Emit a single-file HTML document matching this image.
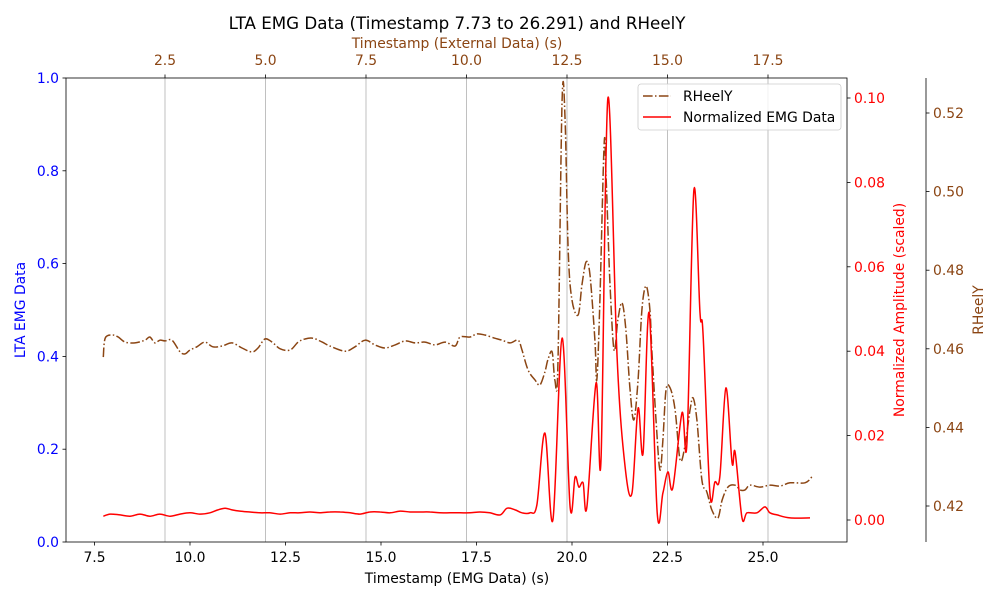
<!DOCTYPE html>
<html><head><meta charset="utf-8"><style>
body{margin:0;background:#fff;}
svg text{font-family:"DejaVu Sans","Liberation Sans",sans-serif;}
</style></head><body>
<svg id="chart" width="1000" height="600" xmlns="http://www.w3.org/2000/svg"></svg>
<script>
const heelX=[7.73,7.78,7.96,8.12,8.30,8.56,8.82,8.95,9.08,9.21,9.35,9.53,9.74,9.87,10.0,10.18,10.39,10.60,10.84,11.10,11.36,11.62,11.78,11.96,12.15,12.36,12.62,12.83,13.01,13.22,13.46,13.66,14.06,14.32,14.58,14.84,15.10,15.37,15.63,15.89,16.15,16.41,16.68,16.94,17.07,17.33,17.51,17.72,17.98,18.17,18.38,18.59,18.69,18.85,19.03,19.16,19.29,19.37,19.48,19.55,19.63,19.74,19.82,19.90,20.0,20.16,20.26,20.37,20.47,20.60,20.65,20.73,20.84,20.89,20.99,21.10,21.20,21.31,21.41,21.52,21.62,21.73,21.83,21.94,22.04,22.09,22.20,22.30,22.38,22.46,22.57,22.70,22.83,22.96,23.09,23.17,23.27,23.40,23.53,23.66,23.82,23.93,24.08,24.27,24.40,24.53,24.66,24.92,25.18,25.45,25.71,26.10,26.28];
const heelY=[0.4579,0.4627,0.4635,0.4630,0.4617,0.4615,0.4622,0.4630,0.4615,0.4622,0.4620,0.4622,0.4592,0.4587,0.4597,0.4605,0.4617,0.4605,0.4607,0.4615,0.4602,0.4592,0.4602,0.4625,0.4617,0.4600,0.4597,0.4617,0.4625,0.4627,0.4617,0.4607,0.4594,0.4605,0.4622,0.4610,0.4602,0.4610,0.4620,0.4615,0.4617,0.4610,0.4617,0.4607,0.4630,0.4630,0.4638,0.4635,0.4627,0.4622,0.4615,0.4622,0.4597,0.4546,0.4521,0.4508,0.4541,0.4572,0.4592,0.4521,0.4559,0.5233,0.5182,0.4851,0.4724,0.4686,0.4762,0.4821,0.4788,0.4622,0.4521,0.4724,0.5119,0.5042,0.4775,0.4597,0.4673,0.4717,0.4648,0.4495,0.4419,0.4521,0.4699,0.4760,0.4699,0.4597,0.4419,0.4292,0.4368,0.4495,0.4500,0.4444,0.4317,0.4355,0.4444,0.4475,0.4419,0.4266,0.4236,0.4190,0.4169,0.4215,0.4248,0.4253,0.4241,0.4241,0.4253,0.4248,0.4253,0.4251,0.4259,0.4259,0.4274];
const emgX=[7.73,7.91,8.17,8.43,8.69,8.95,9.21,9.48,9.74,10.0,10.26,10.52,10.73,10.92,11.10,11.31,11.57,11.83,12.09,12.36,12.62,12.88,13.14,13.40,13.66,13.93,14.19,14.45,14.71,14.97,15.24,15.50,15.76,16.02,16.28,16.54,16.81,17.07,17.33,17.59,17.85,18.12,18.30,18.51,18.69,18.90,19.08,19.29,19.50,19.74,19.95,20.08,20.18,20.29,20.39,20.63,20.76,20.94,21.18,21.39,21.57,21.73,21.86,22.02,22.23,22.38,22.51,22.64,22.88,23.01,23.19,23.35,23.43,23.61,23.74,23.87,24.03,24.19,24.27,24.45,24.58,24.84,25.05,25.18,25.37,25.71,26.23];
const emgY=[0.0009,0.0014,0.0012,0.0009,0.0014,0.0009,0.0014,0.0009,0.0014,0.0017,0.0014,0.0017,0.0024,0.0028,0.0024,0.0021,0.0019,0.0017,0.0017,0.0014,0.0017,0.0017,0.0019,0.0017,0.0019,0.0019,0.0017,0.0014,0.0019,0.0019,0.0017,0.0021,0.0019,0.0019,0.0019,0.0017,0.0017,0.0017,0.0017,0.0019,0.0017,0.0012,0.0028,0.0024,0.0017,0.0017,0.0036,0.0206,0.0,0.0431,0.0031,0.0102,0.0078,0.0088,0.0031,0.0325,0.0142,0.1,0.0386,0.0126,0.0064,0.0265,0.0159,0.0491,0.0017,0.0064,0.0114,0.0076,0.0254,0.0185,0.0782,0.0491,0.0443,0.0064,0.0090,0.0102,0.0313,0.0135,0.0161,0.0005,0.0017,0.0017,0.0031,0.0017,0.0012,0.0005,0.0005];
const bottomTicks=[7.5,10.0,12.5,15.0,17.5,20.0,22.5,25.0];
const topTicks=[2.5,5.0,7.5,10.0,12.5,15.0,17.5];
const leftTicks=[0.0,0.2,0.4,0.6,0.8,1.0];
const redTicks=[0.00,0.02,0.04,0.06,0.08,0.10];
const heelTicks=[0.42,0.44,0.46,0.48,0.50,0.52];

const L=66,R=847,T=78,B=542;
const xB=v=>190+(v-10)*38.2;
const xT=v=>64.5+v*40.2;
const yL=v=>B-v*(B-T);
const yR=v=>520-v*4220;
const yH=v=>506-(v-0.42)*3930;
const svg=document.getElementById('chart');
const NS='http://www.w3.org/2000/svg';
function mk(tag,attrs,parent,text){const e=document.createElementNS(NS,tag);for(const k in attrs)e.setAttribute(k,attrs[k]);if(text!==undefined)e.textContent=text;(parent||svg).appendChild(e);return e;}
const BR='#8B4513';
const FS=13.9;

topTicks.forEach(t=>{
  const g=mk('line',{x1:xT(t),x2:xT(t),y1:T,y2:B,stroke:'#b0b0b0','stroke-width':0.8});
  
  
  mk('line',{x1:xT(t),x2:xT(t),y1:T,y2:T-3.5,stroke:'#000','stroke-width':0.8});
  const tl=mk('text',{x:xT(t),y:T-13,'text-anchor':'middle','font-size':FS,fill:BR},null,t.toFixed(1));
  
  
});
bottomTicks.forEach(t=>{
  mk('line',{x1:xB(t),x2:xB(t),y1:B,y2:B+3.5,stroke:'#000','stroke-width':0.8});
  const tl=mk('text',{x:xB(t),y:B+20,'text-anchor':'middle','font-size':FS,fill:'#000'},null,t.toFixed(1));
  
  
});
leftTicks.forEach(t=>{
  mk('line',{x1:L,x2:L-3.5,y1:yL(t),y2:yL(t),stroke:'#000','stroke-width':0.8});
  const tl=mk('text',{x:L-7,y:yL(t)+5,'text-anchor':'end','font-size':FS,fill:'#0000ff'},null,t.toFixed(1));
  
  
});
redTicks.forEach(t=>{
  mk('line',{x1:R,x2:R+3.5,y1:yR(t),y2:yR(t),stroke:'#000','stroke-width':0.8});
  const tl=mk('text',{x:R+7,y:yR(t)+5,'font-size':FS,fill:'#ff0000'},null,t.toFixed(2));
  
  
});
const HX=926;
heelTicks.forEach(t=>{
  mk('line',{x1:HX,x2:HX+3.5,y1:yH(t),y2:yH(t),stroke:'#000','stroke-width':0.8});
  const tl=mk('text',{x:HX+7,y:yH(t)+5,'font-size':FS,fill:BR},null,t.toFixed(2));
  
  
});
mk('line',{x1:HX,x2:HX,y1:T,y2:B,stroke:'#000','stroke-width':0.8});

function smooth(pts){
  let d='M'+pts[0][0].toFixed(1)+','+pts[0][1].toFixed(1);
  for(let i=0;i<pts.length-1;i++){
    const p0=pts[Math.max(0,i-1)],p1=pts[i],p2=pts[i+1],p3=pts[Math.min(pts.length-1,i+2)];
    const c1=[p1[0]+(p2[0]-p0[0])/6,p1[1]+(p2[1]-p0[1])/6];
    const c2=[p2[0]-(p3[0]-p1[0])/6,p2[1]-(p3[1]-p1[1])/6];
    d+='C'+c1[0].toFixed(1)+','+c1[1].toFixed(1)+' '+c2[0].toFixed(1)+','+c2[1].toFixed(1)+' '+p2[0].toFixed(1)+','+p2[1].toFixed(1);
  }
  return d;
}
const clip=mk('clipPath',{id:'pc'});mk('rect',{x:L,y:T,width:R-L,height:B-T},clip);
const hp=mk('path',{d:smooth(heelX.map((x,i)=>[xB(x),yH(heelY[i])])),fill:'none',stroke:BR,'stroke-width':1.5,'stroke-dasharray':'9.6,2.4,1.5,2.4','clip-path':'url(#pc)','stroke-linejoin':'round'});


const ep=mk('path',{d:smooth(emgX.map((x,i)=>[xB(x),yR(emgY[i])])),fill:'none',stroke:'#ff0000','stroke-width':1.5,'clip-path':'url(#pc)','stroke-linejoin':'round'});



mk('rect',{x:L,y:T,width:R-L,height:B-T,fill:'none',stroke:'#000','stroke-width':0.8});

const tt=mk('text',{x:457,y:29,'text-anchor':'middle','font-size':16.7,fill:'#000'},null,'LTA EMG Data (Timestamp 7.73 to 26.291) and RHeelY');

const ta=mk('text',{x:457,y:48,'text-anchor':'middle','font-size':FS,fill:BR},null,'Timestamp (External Data) (s)');

const xa=mk('text',{x:457,y:583,'text-anchor':'middle','font-size':FS,fill:'#000'},null,'Timestamp (EMG Data) (s)');

const ya=mk('text',{x:25,y:310,'text-anchor':'middle','font-size':FS,fill:'#0000ff',transform:'rotate(-90 25 310)'},null,'LTA EMG Data');

const ra=mk('text',{x:904,y:310,'text-anchor':'middle','font-size':FS,fill:'#ff0000',transform:'rotate(-90 904 310)'},null,'Normalized Amplitude (scaled)');

const ha=mk('text',{x:983,y:310,'text-anchor':'middle','font-size':FS,fill:BR,transform:'rotate(-90 983 310)'},null,'RHeelY');


const lg=mk('g',{});

mk('rect',{x:638,y:84,width:203,height:46,rx:3,fill:'#fff','fill-opacity':0.8,stroke:'#ccc','stroke-width':0.8},lg);
mk('line',{x1:643,x2:671,y1:96,y2:96,stroke:BR,'stroke-width':1.5,'stroke-dasharray':'9.6,2.4,1.5,2.4'},lg);
const l1=mk('text',{x:683,y:101,'font-size':FS,fill:'#000'},lg,'RHeelY');

mk('line',{x1:643,x2:671,y1:117,y2:117,stroke:'#ff0000','stroke-width':1.5},lg);
const l2=mk('text',{x:683,y:122,'font-size':FS,fill:'#000'},lg,'Normalized EMG Data');

</script>
</body></html>
